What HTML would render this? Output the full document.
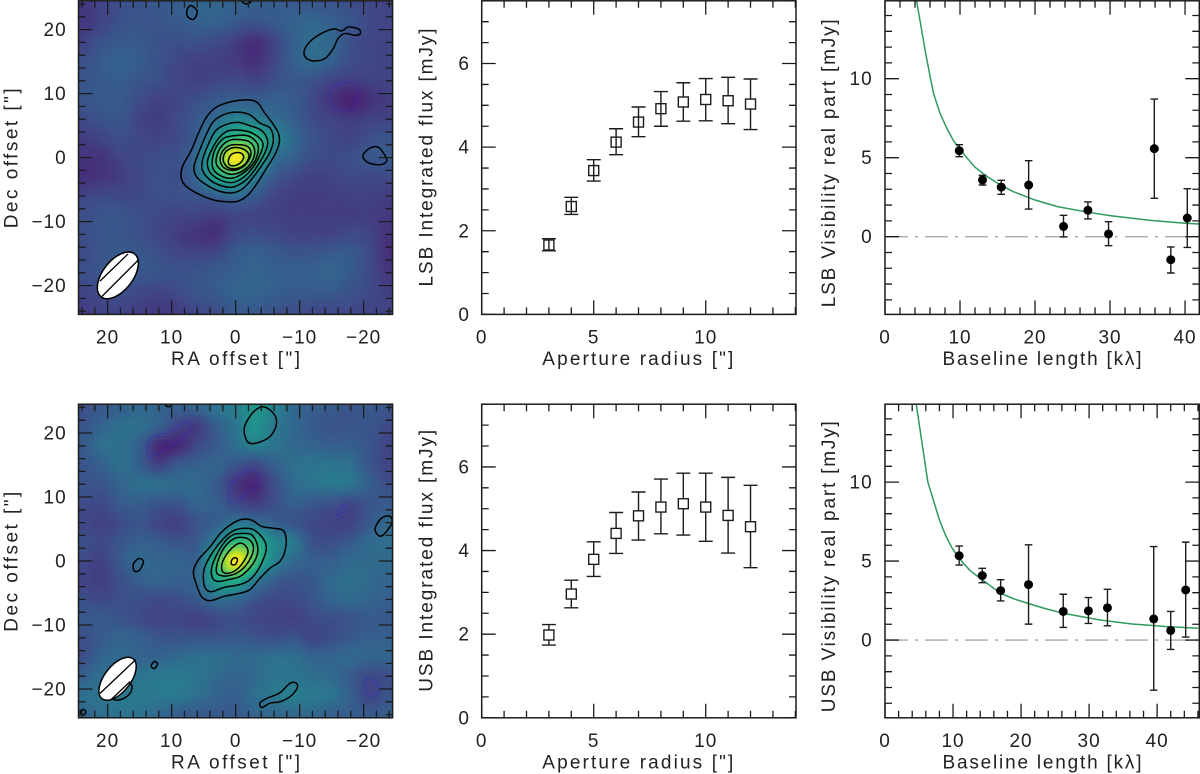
<!DOCTYPE html>
<html lang="en">
<head>
<meta charset="utf-8">
<title>LSB and USB maps, flux curves and visibilities</title>
<style>
html,body{margin:0;padding:0;background:#fff;}
svg{display:block;}
text{font-family:"Liberation Sans",sans-serif;font-size:19px;fill:#222;}
.tick-label{letter-spacing:1px;}
</style>
</head>
<body>
<svg id="figure" xmlns="http://www.w3.org/2000/svg" width="1200" height="774" viewBox="0 0 1200 774">
  <defs id="clips"></defs>
  <g id="marks"></g>

  <text x="235.5" y="365" text-anchor="middle" textLength="129" lengthAdjust="spacing">RA offset [&quot;]</text>
  <text transform="translate(17.5,158.3) rotate(-90)" text-anchor="middle" textLength="140" lengthAdjust="spacing">Dec offset [&quot;]</text>
  <text x="235.5" y="768.5" text-anchor="middle" textLength="129" lengthAdjust="spacing">RA offset [&quot;]</text>
  <text transform="translate(17.5,561.7) rotate(-90)" text-anchor="middle" textLength="140" lengthAdjust="spacing">Dec offset [&quot;]</text>

  <text x="637.8" y="365" text-anchor="middle" textLength="191" lengthAdjust="spacing">Aperture radius [&quot;]</text>
  <text transform="translate(432.7,157.5) rotate(-90)" text-anchor="middle" textLength="258" lengthAdjust="spacing">LSB Integrated flux [mJy]</text>
  <text x="637.8" y="768.5" text-anchor="middle" textLength="191" lengthAdjust="spacing">Aperture radius [&quot;]</text>
  <text transform="translate(432.7,560.8) rotate(-90)" text-anchor="middle" textLength="262" lengthAdjust="spacing">USB Integrated flux [mJy]</text>

  <text x="1042" y="365" text-anchor="middle" textLength="199" lengthAdjust="spacing">Baseline length [kλ]</text>
  <text transform="translate(835,163.3) rotate(-90)" text-anchor="middle" textLength="288" lengthAdjust="spacing">LSB Visibility real part [mJy]</text>
  <text x="1042" y="768.5" text-anchor="middle" textLength="199" lengthAdjust="spacing">Baseline length [kλ]</text>
  <text transform="translate(835,566.7) rotate(-90)" text-anchor="middle" textLength="291" lengthAdjust="spacing">USB Visibility real part [mJy]</text>
</svg>

<script>
/* ---------- Map grids: sky offsets (arcsec) and intensity on a 0-100 colour scale ---------- */
const mapRaValues = [24,21,18,15,12,9,6,3,0,-3,-6,-9,-12,-15,-18,-21,-24];
const mapDecValues = [24,21,18,15,12,9,6,3,0,-3,-6,-9,-12,-15,-18,-21,-24];

const lsbMapIntensity = [
 [17,20,24,26,27,30,32,33,31,30,29,28,27,26,24,22,20],
 [16,20,25,26,26,28,30,30,27,25,28,31,33,30,26,22,20],
 [20,25,28,28,25,24,24,22,18,13,20,30,35,33,24,21,20],
 [24,28,31,29,25,21,19,19,17,14,21,30,34,30,23,21,20],
 [26,28,29,26,24,21,19,21,22,20,24,27,25,20,18,19,20],
 [26,28,28,23,19,21,24,28,30,29,30,28,22,15,9,14,18],
 [22,25,26,20,18,22,28,35,44,42,36,30,23,20,17,19,20],
 [18,20,24,21,20,22,30,50,68,66,48,34,26,22,20,24,26],
 [15,15,20,22,24,25,36,68,100,70,38,30,24,22,24,27,28],
 [14,15,18,22,24,24,34,58,64,42,28,22,19,20,22,22,22],
 [20,22,22,22,24,24,26,30,34,28,21,18,18,18,19,19,18],
 [24,26,26,24,22,20,20,18,21,20,19,18,18,18,18,18,16],
 [24,26,26,24,21,18,15,14,22,24,22,20,20,20,22,20,14],
 [22,26,28,27,24,21,20,22,28,30,28,26,26,28,28,22,13],
 [24,26,28,27,26,25,26,28,30,32,30,30,30,32,28,22,16],
 [20,22,24,22,20,22,26,28,32,32,30,28,28,28,25,22,18],
 [18,20,20,18,17,18,22,24,28,28,26,24,22,22,22,20,20]
];

const usbMapIntensity = [
 [24,28,30,33,32,30,32,38,42,50,44,34,30,28,26,28,26],
 [26,32,36,36,30,20,18,30,38,50,40,34,28,26,26,26,22],
 [28,36,36,30,12,12,22,28,36,42,38,34,32,30,30,26,20],
 [26,30,36,30,20,28,30,32,26,22,30,36,38,38,36,26,20],
 [26,26,32,36,36,34,34,28,16,11,24,34,38,40,38,30,23],
 [23,22,28,30,26,26,32,30,22,18,24,30,27,25,22,26,28],
 [22,19,23,26,21,19,26,30,38,36,30,26,22,20,20,28,34],
 [24,22,26,30,28,26,28,44,66,64,46,40,25,24,28,34,36],
 [22,19,28,34,32,32,32,66,100,70,44,34,30,30,34,34,34],
 [20,18,24,30,32,30,34,56,62,42,30,26,28,34,36,34,32],
 [24,22,24,24,23,24,28,36,34,26,22,22,26,32,34,32,30],
 [28,28,26,23,20,21,19,22,24,21,20,19,23,24,26,28,28],
 [24,28,32,30,26,26,26,26,28,26,24,26,21,24,28,30,30],
 [24,32,34,32,32,34,36,36,34,34,36,36,32,32,34,32,32],
 [30,36,36,38,40,40,38,34,32,34,38,38,36,34,28,22,24],
 [36,38,40,40,40,40,36,32,30,36,40,42,40,38,30,21,26],
 [32,36,38,38,34,30,28,28,28,32,34,34,34,30,30,28,30]
];

/* ---------- Contours, as [RA, Dec] in arcsec ---------- */
const lsbContours = [
 [[-2.2,9.0],[-3.5,8.5],[-4.6,6.9],[-5.6,5.6],[-6.7,3.8],[-6.8,2.2],[-6.1,0.4],[-4.8,-1.7],[-3.5,-3.8],[-2.0,-5.8],[-0.4,-6.8],[1.4,-6.9],[3.5,-6.6],[5.6,-5.8],[7.7,-4.5],[8.5,-3.2],[8.3,-1.4],[6.9,1.2],[5.6,4.3],[4.5,6.4],[3.0,7.9],[0.4,8.8]],
 [[-0.2,7.1],[-2.2,6.7],[-3.8,5.4],[-5.4,4.6],[-5.9,2.8],[-5.4,0.9],[-4.3,-0.9],[-2.8,-3.0],[-1.2,-4.8],[0.4,-5.5],[2.4,-5.3],[4.5,-4.3],[6.1,-3.0],[6.5,-1.4],[5.6,1.2],[4.5,3.8],[3.5,5.6],[1.9,6.7]],
 [[-0.4,5.5],[-2.2,5.0],[-3.8,4.4],[-4.8,3.3],[-5.0,2.0],[-4.3,0.2],[-3.0,-1.9],[-1.5,-3.6],[0.4,-4.6],[2.2,-4.4],[4.0,-3.5],[5.2,-1.9],[5.1,-0.1],[4.3,2.0],[3.2,4.1],[1.7,5.1]],
 [[-0.4,4.3],[-2.2,4.0],[-3.8,3.0],[-4.3,2.0],[-3.8,0.4],[-2.8,-1.4],[-1.2,-3.1],[0.5,-3.9],[2.4,-3.5],[4.0,-2.3],[4.4,-0.6],[3.6,1.5],[2.4,3.3],[1.1,4.2]],
 [[-0.7,3.5],[-2.2,3.3],[-3.4,2.2],[-3.5,0.9],[-2.8,-0.9],[-1.2,-2.4],[0.5,-3.2],[2.2,-2.9],[3.5,-1.8],[3.6,-0.1],[3.0,1.7],[1.7,3.1]],
 [[-0.7,2.8],[-2.1,2.5],[-2.9,1.5],[-2.8,-0.1],[-1.5,-1.8],[0.4,-2.6],[1.9,-2.2],[3.0,-1.0],[2.8,0.7],[1.9,2.1],[0.6,2.8]],
 [[-0.7,2.0],[-1.9,1.7],[-2.4,0.8],[-2.0,-0.5],[-0.9,-1.6],[0.5,-2.0],[1.8,-1.6],[2.4,-0.5],[2.1,0.9],[0.9,1.9]],
 [[-0.7,1.5],[-1.7,1.0],[-2.1,0.2],[-1.5,-1.0],[-0.2,-1.7],[1.1,-1.6],[1.9,-0.6],[1.7,0.7],[0.6,1.5]],
 [[-0.4,0.8],[-1.1,0.5],[-1.2,-0.2],[-0.5,-1.0],[0.5,-1.3],[1.1,-0.9],[1.0,0],[0.5,0.6]],
 [[6.9,23.75],[6.0,22.8],[6.6,21.6],[7.55,22.1],[7.55,23.2]],
 [[-0.9,25.2],[-1.0,24.4],[-1.7,24.0],[-2.4,24.4],[-2.5,25.2]],
 [[-10.7,16.6],[-11.6,18.1],[-13.4,19.4],[-15.3,20.1],[-16.6,19.8],[-17.6,20.4],[-19.2,20.1],[-19.5,19.4],[-18.6,19.1],[-17.1,19.4],[-16.0,18.6],[-15.3,17.1],[-14.0,15.5],[-12.4,15.1],[-11.1,15.5]],
 [[-19.9,0.4],[-21.0,1.5],[-22.3,1.6],[-23.3,0.4],[-23.6,-0.6],[-22.6,-1.1],[-21.0,-0.9],[-20.2,-0.4]]
];
const lsbDottedContours = [
 [[-16.8,11.7],[-18.4,11.6],[-19.0,10.6],[-18.8,8.75],[-17.6,7.3],[-16.3,7.3],[-15.0,8.2],[-14.5,9.5],[-15.3,11.0]]
];
const lsbBeamHatch = [
 [[21.2,-19.3],[16.8,-15.05]],
 [[20.9,-21.7],[15.3,-16.1]]
];
const lsbBeam = [18.4,-18.4,4.25,2.35,52];

const usbContours = [
 [[-0.9,6.5],[-2.5,6.4],[-4.1,5.4],[-6.1,5.1],[-7.4,4.8],[-7.9,3.5],[-7.7,1.5],[-6.9,-0.1],[-5.4,-1.1],[-3.8,-2.7],[-2.2,-4.5],[-0.4,-5.1],[1.7,-5.5],[4.0,-6.2],[5.3,-5.6],[6.1,-3.75],[6.6,-1.7],[5.8,0.2],[4.0,2.2],[2.4,4.3],[0.9,5.6]],
 [[-1.2,5.1],[-2.8,4.9],[-4.3,3.5],[-4.8,2.0],[-4.3,0.2],[-3.3,-1.7],[-2.0,-3.1],[-0.4,-3.75],[1.7,-4.1],[3.75,-4.8],[4.7,-4.3],[5.05,-2.7],[4.8,-0.9],[3.5,1.5],[1.9,3.5],[0.4,4.7]],
 [[-0.9,4.3],[-2.5,4.1],[-3.4,2.5],[-3.3,0.7],[-2.2,-1.1],[-0.7,-2.4],[1.1,-2.9],[2.7,-3.2],[3.6,-2.7],[3.75,-1.1],[3.0,0.9],[1.7,3.0],[0.4,4.1]],
 [[-0.9,3.7],[-2.2,3.3],[-2.8,2.0],[-2.2,0.2],[-0.9,-1.4],[0.6,-2.2],[2.2,-2.3],[3.0,-1.7],[2.7,0.2],[1.7,2.2],[0.4,3.4]],
 [[-0.7,2.8],[-1.7,2.2],[-1.9,1.2],[-0.9,-0.6],[0.4,-1.7],[1.7,-1.9],[2.2,-1.1],[1.8,0.4],[0.6,2.0]],
 [[0,0.5],[-0.3,0.2],[0,-0.5],[0.5,-0.6],[0.7,-0.3],[0.5,0.3]],
 [[-4.3,24.1],[-5.9,23.1],[-6.4,21.5],[-5.6,19.7],[-4.1,18.7],[-2.2,18.4],[-1.4,19.7],[-1.5,21.3],[-2.8,23.3]],
 [[11.0,25.2],[11.0,24.4],[10.5,24.1],[10.0,24.4],[10.0,25.2]],
 [[15.0,0.4],[14.4,-0.1],[15.0,-1.4],[15.8,-1.6],[16.0,-0.6],[15.5,0.15]],
 [[-21.8,5.1],[-22.8,6.7],[-24.1,7.0],[-24.4,5.9],[-23.1,4.1],[-22.3,4.0]],
 [[12.7,-15.7],[12.2,-16.1],[12.7,-16.8],[13.2,-16.4]],
 [[-3.8,-22.2],[-4.8,-21.5],[-6.9,-20.6],[-8.5,-19.1],[-9.5,-19.1],[-9.6,-19.9],[-8.5,-21.2],[-6.9,-22.0],[-5.4,-22.2],[-4.1,-22.9]],
 [[16.25,-19.4],[16.5,-20.7],[17.8,-21.6],[19.1,-21.6],[19.6,-20.4],[17.5,-18.9]],
 [[23.8,-23.2],[23.4,-23.6],[23.8,-24.1],[24.3,-23.6]]
];
const usbDottedContours = [
 [[13.9,18.1],[12.9,19.4],[10.8,20.2],[7.4,21.9],[7.2,20.8],[8.7,18.9],[11.3,17.3],[13.5,16.3]],
 [[-2.2,14.2],[-3.5,13.4],[-3.3,11.9],[-1.7,10.6],[0.4,9.1],[1.25,9.8],[0.6,12.1],[-0.7,13.5]],
 [[-16.8,8.6],[-17.1,8.0],[-16.2,7.1],[-15.8,7.4]],
 [[-20.5,-18.5],[-22,-18.85],[-22.4,-20.2],[-21.5,-21.2],[-20.5,-20.7],[-20.2,-19.4]]
];
const usbBeamHatch = [
 [[21.2,-20.7],[15.6,-15.4]],
 [[19.4,-21.6],[16.5,-18.85]]
];
const usbBeam = [18.45,-18.4,3.95,2.04,52];

/* ---------- Integrated flux vs aperture radius ---------- */
const apertureRadii = [3,4,5,6,7,8,9,10,11,12];
const lsbFlux = [1.66,2.58,3.44,4.12,4.60,4.92,5.08,5.14,5.11,5.03];
const lsbFluxHigh = [1.81,2.80,3.70,4.44,4.96,5.33,5.54,5.64,5.67,5.63];
const lsbFluxLow = [1.52,2.39,3.19,3.82,4.25,4.50,4.62,4.63,4.56,4.42];
const usbFlux = [1.98,2.96,3.79,4.41,4.83,5.04,5.12,5.04,4.84,4.57];
const usbFluxHigh = [2.23,3.29,4.21,4.91,5.40,5.71,5.85,5.85,5.75,5.56];
const usbFluxLow = [1.74,2.63,3.38,3.93,4.25,4.40,4.37,4.22,3.94,3.59];

/* ---------- Visibilities vs baseline ---------- */
const lsbBaseline = [9.9,13,15.5,19.15,23.8,27.05,29.8,35.9,38.1,40.3];
const lsbVisibility = [5.44,3.59,3.14,3.27,0.65,1.67,0.17,5.57,-1.46,1.18];
const lsbVisibilityHigh = [5.82,3.88,3.57,4.81,1.35,2.20,0.95,8.71,-0.65,3.04];
const lsbVisibilityLow = [5.06,3.27,2.68,1.75,-0.02,1.12,-0.57,2.43,-2.30,-0.68];
const lsbModelBaseline = [4.2,5.5,6.45,7.3,8.2,9.1,9.9,10.9,12,13.6,15.5,17.1,20,23,27,30,35,40,41.9];
const lsbModelFlux = [14.95,11.4,9.1,7.85,6.9,6.1,5.6,5.0,4.4,3.8,3.25,2.85,2.32,1.9,1.55,1.33,1.05,0.85,0.8];

const usbBaseline = [10.9,14.3,17,21.1,26.2,29.9,32.7,39.5,42,44.2];
const usbVisibility = [5.34,4.08,3.13,3.51,1.81,1.85,2.04,1.34,0.61,3.17];
const usbVisibilityHigh = [5.95,4.54,3.82,6.03,2.90,2.69,3.21,5.92,1.81,6.20];
const usbVisibilityLow = [4.75,3.63,2.48,1.01,0.80,1.05,0.90,-3.17,-0.59,0.19];
const usbModelBaseline = [4.6,6.3,7.2,8,9,9.9,10.9,12.5,14.4,17,19,21.2,23.5,26.2,31.5,36.3,41.2,46];
const usbModelFlux = [14.9,10,8.74,7.6,6.53,5.8,5.17,4.4,3.78,2.96,2.6,2.3,2.0,1.7,1.28,1.02,0.86,0.75];

/* ---------- Tick label arrays ---------- */
const raTickLabels = [20,10,0,-10,-20];
const decTickLabels = [20,10,0,-10,-20];
const radiusTickLabels = [0,5,10];
const fluxTickLabels = [0,2,4,6];
const lsbBaselineTickLabels = [0,10,20,30,40];
const usbBaselineTickLabels = [0,10,20,30,40];
const visibilityTickLabels = [0,5,10];

/* ---------- Helpers ---------- */
const SVGNS = 'http://www.w3.org/2000/svg';
const root = document.getElementById('marks');
const clips = document.getElementById('clips');
const INK = '#1c1c1c';

function mk(tag, parent, attrs) {
  const el = document.createElementNS(SVGNS, tag);
  for (const k in attrs) el.setAttribute(k, attrs[k]);
  parent.appendChild(el);
  return el;
}
function fmt(v) { return v < 0 ? '\u2212' + Math.abs(v) : String(v); }

const viridis = [[68,1,84],[72,36,117],[65,68,135],[53,95,141],[42,120,142],[33,145,140],[34,168,132],[68,191,112],[122,209,81],[189,223,38],[253,231,37]];
function colorFor(t) {
  const c = Math.max(0, Math.min(0.9999, t)) * 10;
  const i = Math.floor(c), f = c - i;
  const a = viridis[i], b = viridis[i + 1];
  return 'rgb(' + Math.round(a[0] + (b[0] - a[0]) * f) + ',' + Math.round(a[1] + (b[1] - a[1]) * f) + ',' + Math.round(a[2] + (b[2] - a[2]) * f) + ')';
}
function cubic(p0, p1, p2, p3, t) {
  return p1 + 0.5 * t * (p2 - p0 + t * (2 * p0 - 5 * p1 + 4 * p2 - p3 + t * (3 * (p1 - p2) + p3 - p0)));
}
function sampleGrid(grid, raAxis, decAxis, ra, dec) {
  const n = raAxis.length, m = decAxis.length;
  const u = (ra - raAxis[0]) / (raAxis[1] - raAxis[0]);
  const v = (dec - decAxis[0]) / (decAxis[1] - decAxis[0]);
  const i = Math.floor(u), j = Math.floor(v);
  const cl = (x, hi) => Math.max(0, Math.min(hi, x));
  const rowVals = [];
  for (let dj = -1; dj <= 2; dj++) {
    const r = grid[cl(j + dj, m - 1)];
    rowVals.push(cubic(r[cl(i - 1, n - 1)], r[cl(i, n - 1)], r[cl(i + 1, n - 1)], r[cl(i + 2, n - 1)], u - i));
  }
  return cubic(rowVals[0], rowVals[1], rowVals[2], rowVals[3], v - j);
}
function smoothClosed(pts) {
  const n = pts.length;
  let d = 'M' + pts[0][0].toFixed(2) + ' ' + pts[0][1].toFixed(2);
  for (let i = 0; i < n; i++) {
    const p0 = pts[(i - 1 + n) % n], p1 = pts[i], p2 = pts[(i + 1) % n], p3 = pts[(i + 2) % n];
    d += 'C' + (p1[0] + (p2[0] - p0[0]) / 6).toFixed(2) + ' ' + (p1[1] + (p2[1] - p0[1]) / 6).toFixed(2) + ' ' +
         (p2[0] - (p3[0] - p1[0]) / 6).toFixed(2) + ' ' + (p2[1] - (p3[1] - p1[1]) / 6).toFixed(2) + ' ' +
         p2[0].toFixed(2) + ' ' + p2[1].toFixed(2);
  }
  return d + 'Z';
}

function makePanel(id, left, right, top, bottom, xStart, xEnd, yStart, yEnd) {
  const g = mk('g', root, {});
  
  
  const clip = mk('clipPath', clips, { id: 'clip-' + id });
  mk('rect', clip, { x: left, y: top, width: right - left, height: bottom - top });
  return {
    id, g, left, right, top, bottom, xStart, xEnd, yStart, yEnd,
    sx: v => left + (v - xStart) * (right - left) / (xEnd - xStart),
    sy: v => bottom - (v - yStart) * (bottom - top) / (yEnd - yStart),
    clipUrl: 'url(#clip-' + id + ')'
  };
}

function drawAxes(p, xMinor, xMajor, yMinor, yMajor, xLabels, yLabels, xLabelY, yLabelX) {
  const axes = mk('g', p.g, {});
  
  
  let d = '';
  const lo = Math.min(p.xStart, p.xEnd), hi = Math.max(p.xStart, p.xEnd);
  for (let n = Math.ceil(lo / xMinor - 1e-9); n * xMinor <= hi + 1e-9; n++) {
    const v = n * xMinor, q = v / xMajor, len = Math.abs(q - Math.round(q)) < 1e-6 ? 14 : 7, x = p.sx(v).toFixed(2);
    d += 'M' + x + ' ' + p.bottom + 'V' + (p.bottom - len) + 'M' + x + ' ' + p.top + 'V' + (p.top + len);
  }
  for (let n = Math.ceil(p.yStart / yMinor - 1e-9); n * yMinor <= p.yEnd + 1e-9; n++) {
    const v = n * yMinor, q = v / yMajor, len = Math.abs(q - Math.round(q)) < 1e-6 ? 14 : 7, y = p.sy(v).toFixed(2);
    d += 'M' + p.left + ' ' + y + 'H' + (p.left + len) + 'M' + p.right + ' ' + y + 'H' + (p.right - len);
  }
  const ticks = mk('path', axes, { d: d, fill: 'none', stroke: INK, 'stroke-width': 1.3 });
  
  
  const frame = mk('rect', axes, { x: p.left, y: p.top, width: p.right - p.left, height: p.bottom - p.top, fill: 'none', stroke: INK, 'stroke-width': 1.5 });
  
  
  xLabels.forEach(v => {
    const t = mk('text', axes, { x: p.sx(v), y: xLabelY, 'text-anchor': 'middle', class: 'tick-label' });
    
    
    t.textContent = fmt(v);
  });
  yLabels.forEach(v => {
    const t = mk('text', axes, { x: yLabelX, y: p.sy(v) + 6.5, 'text-anchor': 'end', class: 'tick-label' });
    
    
    t.textContent = fmt(v);
  });
}

function drawMap(p, grid, solid, dotted, beam, hatch) {
  const heat = mk('g', p.g, { 'shape-rendering': 'crispEdges', 'clip-path': p.clipUrl });
  
  
  const step = 0.5;
  const cw = Math.abs(p.sx(step) - p.sx(0));
  for (let dec = 24.75; dec > -25; dec -= step) {
    for (let ra = 24.75; ra > -25; ra -= step) {
      const val = sampleGrid(grid, mapRaValues, mapDecValues, ra, dec) / 100;
      const cell = mk('rect', heat, {
        x: (p.sx(ra) - cw / 2).toFixed(2), y: (p.sy(dec) - cw / 2).toFixed(2),
        width: (cw + 0.4).toFixed(2), height: (cw + 0.4).toFixed(2), fill: colorFor(val)
      });
      
      
    }
  }
  const lines = mk('g', p.g, { 'clip-path': p.clipUrl });
  
  
  solid.forEach(c => {
    const path = mk('path', lines, { d: smoothClosed(c.map(q => [p.sx(q[0]), p.sy(q[1])])), fill: 'none', stroke: '#000', 'stroke-width': 1.5 });
    
    
  });
  dotted.forEach(c => {
    const path = mk('path', lines, { d: smoothClosed(c.map(q => [p.sx(q[0]), p.sy(q[1])])), fill: 'none', stroke: '#2222dd', 'stroke-width': 1.2, 'stroke-dasharray': '1 3' });
    
    
  });
  const k = Math.abs(p.sx(1) - p.sx(0));
  const bx = p.sx(beam[0]), by = p.sy(beam[1]);
  const b = mk('ellipse', lines, { cx: bx, cy: by, rx: beam[2] * k, ry: beam[3] * k, transform: 'rotate(' + (-beam[4]) + ' ' + bx + ' ' + by + ')', fill: '#fff', stroke: '#000', 'stroke-width': 1.5 });
  
  
  hatch.forEach(h => {
    const l = mk('line', lines, { x1: p.sx(h[0][0]), y1: p.sy(h[0][1]), x2: p.sx(h[1][0]), y2: p.sy(h[1][1]), stroke: '#000', 'stroke-width': 1.3 });
    
    
  });
}

function drawFlux(p, xs, ys, hi, lo, throughCount) {
  const marks = mk('g', p.g, { fill: 'none', stroke: INK, 'stroke-width': 1.4 });
  
  
  xs.forEach((xv, i) => {
    const x = p.sx(xv), y = p.sy(ys[i]), yh = p.sy(hi[i]), yl = p.sy(lo[i]);
    const s = 5, c = 7;
    let d = 'M' + (x - c) + ' ' + yh + 'H' + (x + c) + 'M' + (x - c) + ' ' + yl + 'H' + (x + c);
    if (i < throughCount) d += 'M' + x + ' ' + yh + 'V' + yl;
    else d += 'M' + x + ' ' + yh + 'V' + (y - s) + 'M' + x + ' ' + (y + s) + 'V' + yl;
    const bar = mk('path', marks, { d: d });
    
    
    const sq = mk('rect', marks, { x: x - s, y: y - s, width: 2 * s, height: 2 * s });
    
    
  });
}

function drawVisibility(p, xs, ys, hi, lo, modelX, modelY) {
  const zero = mk('line', p.g, { x1: p.sx(0), y1: p.sy(0), x2: p.right, y2: p.sy(0), stroke: '#aaaaaa', 'stroke-width': 1.3, 'stroke-dasharray': '23 7 3 7' });
  
  
  const model = mk('polyline', p.g, {
    points: modelX.map((v, i) => p.sx(v).toFixed(2) + ',' + p.sy(modelY[i]).toFixed(2)).join(' '),
    fill: 'none', stroke: '#2e9a5e', 'stroke-width': 1.5, 'stroke-linejoin': 'round', 'clip-path': p.clipUrl
  });
  
  
  const marks = mk('g', p.g, { 'clip-path': p.clipUrl });
  
  
  xs.forEach((xv, i) => {
    const x = p.sx(xv), y = p.sy(ys[i]), yh = p.sy(hi[i]), yl = p.sy(lo[i]), c = 3.8;
    const bar = mk('path', marks, { d: 'M' + x + ' ' + yh + 'V' + yl + 'M' + (x - c) + ' ' + yh + 'H' + (x + c) + 'M' + (x - c) + ' ' + yl + 'H' + (x + c), fill: 'none', stroke: INK, 'stroke-width': 1.4 });
    
    
    const dot = mk('circle', marks, { cx: x, cy: y, r: 4.5, fill: '#000' });
    
    
  });
}

/* ---------- Panels ---------- */
const lsbMap = makePanel('lsb-map', 78.5, 392.6, 0.8, 314.4, 24.55, -24.53, -24.5, 24.5);
drawMap(lsbMap, lsbMapIntensity, lsbContours, lsbDottedContours, lsbBeam, lsbBeamHatch);
drawAxes(lsbMap, 2, 10, 2, 10, raTickLabels, decTickLabels, 343.5, 66.7);

const usbMap = makePanel('usb-map', 78.5, 392.6, 404.2, 717.8, 24.55, -24.53, -24.5, 24.5);
drawMap(usbMap, usbMapIntensity, usbContours, usbDottedContours, usbBeam, usbBeamHatch);
drawAxes(usbMap, 2, 10, 2, 10, raTickLabels, decTickLabels, 747, 66.7);

const lsbFluxPanel = makePanel('lsb-flux', 481.7, 796, 0.8, 314.4, 0, 14.03, 0, 7.5);
drawFlux(lsbFluxPanel, apertureRadii, lsbFlux, lsbFluxHigh, lsbFluxLow, 6);
drawAxes(lsbFluxPanel, 1, 5, 0.5, 2, radiusTickLabels, fluxTickLabels, 343.5, 470);

const usbFluxPanel = makePanel('usb-flux', 481.7, 796, 404.2, 717.8, 0, 14.03, 0, 7.5);
drawFlux(usbFluxPanel, apertureRadii, usbFlux, usbFluxHigh, usbFluxLow, 0);
drawAxes(usbFluxPanel, 1, 5, 0.5, 2, radiusTickLabels, fluxTickLabels, 747, 470);

const lsbVis = makePanel('lsb-visibility', 885, 1199.3, 0.8, 314.4, 0, 41.9, -4.92, 14.93);
drawVisibility(lsbVis, lsbBaseline, lsbVisibility, lsbVisibilityHigh, lsbVisibilityLow, lsbModelBaseline, lsbModelFlux);
drawAxes(lsbVis, 2, 10, 1, 5, lsbBaselineTickLabels, visibilityTickLabels, 343.5, 872.7);

const usbVis = makePanel('usb-visibility', 885, 1199.3, 404.2, 717.8, 0, 46.2, -4.92, 14.93);
drawVisibility(usbVis, usbBaseline, usbVisibility, usbVisibilityHigh, usbVisibilityLow, usbModelBaseline, usbModelFlux);
drawAxes(usbVis, 2, 10, 1, 5, usbBaselineTickLabels, visibilityTickLabels, 747, 872.7);
</script>
</body>
</html>
